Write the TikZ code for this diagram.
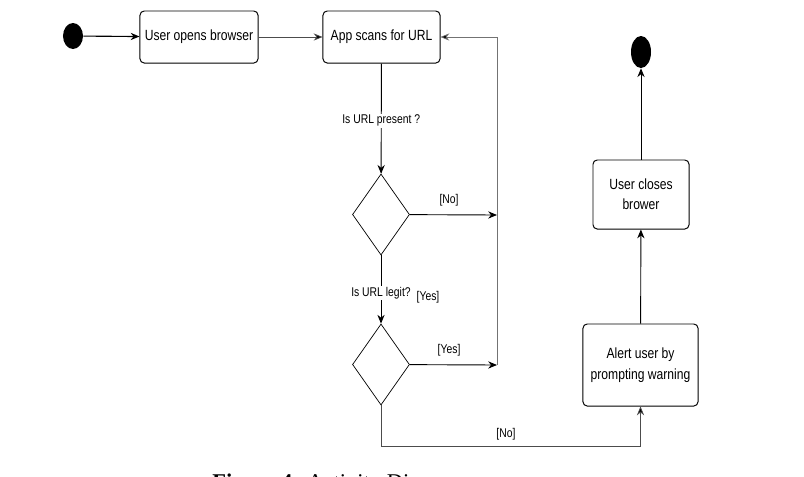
\documentclass[tikz,border=0pt]{standalone}
\usepackage{fontspec}
\setmainfont{Liberation Serif}
\newfontfamily\boxfont{Liberation Sans}[FakeStretch=0.82]
\usetikzlibrary{arrows.meta,shapes.geometric}

\tikzset{
  activity/.style={draw,line width=0.7pt,rounded corners=3pt,align=center,inner sep=1pt,
    font=\boxfont\fontsize{10.5}{14.5}\selectfont,minimum height=1.3cm},
  decision/.style={draw,diamond,line width=0.5pt,inner sep=0pt,minimum width=1.425cm,minimum height=2.025cm},
  terminal/.style={fill=black,ellipse,inner sep=0pt,minimum width=0.5cm,minimum height=0.65cm},
  guard/.style={font=\boxfont\fontsize{9}{10}\selectfont,inner sep=1pt},
  flow/.style={line width=0.65pt,-{Stealth[length=2.2mm,width=1.8mm]}},
  thinflow/.style={line width=0.5pt,draw=black!70,-{Stealth[length=2.2mm,width=1.8mm,fill=black]}},
  backflow/.style={line width=0.5pt,draw=black!55,-{Stealth[length=2.2mm,width=1.8mm,fill=black]}},
}

\begin{document}
\begin{tikzpicture}[x=0.025cm,y=-0.025cm]
\useasboundingbox (0,0) rectangle (804,476);

% states
\node[terminal] (start) at (73,36) {};
\node[activity,minimum width=2.95cm] (open) at (199,37) {User opens browser};
\node[activity,minimum width=2.925cm] (scan) at (381.5,37) {App scans for URL};
\node[decision] (present) at (381,214.5) {};
\node[decision] (legit) at (381,364.5) {};
\node[activity,minimum width=2.875cm,minimum height=2.05cm] (alert) at (640.5,365) {Alert user by\\prompting warning};
\node[activity,minimum width=2.4cm,minimum height=1.725cm] (close) at (641,194.5) {User closes\\brower};
\node[terminal,minimum height=0.8cm] (stop) at (641,52) {};

\coordinate (noend) at (497,215);
\coordinate (yesend) at (497,365);

% flows
\draw[flow,line width=0.8pt] (start) -- (open);
\draw[thinflow] (open) -- (scan);
\draw[flow] (scan) -- (present) node[guard,fill=white,pos=0.52] (qpresent) {Is URL present ?};
\draw[flow] (present) -- (noend) node[guard,above=5pt,pos=0.45] (gno) {[No]};
\draw[flow] (present) -- (legit) node[guard,fill=white,pos=0.55] (qlegit) {Is URL legit?};
\node[guard] (gyes) at (428,297) {[Yes]};
\draw[flow] (legit) -- (yesend) node[guard,above=5pt,pos=0.45] (gyes2) {[Yes]};
\draw[backflow] (yesend) |- (scan.east);
\draw[thinflow] (legit.south) -- ++(0,41) -| (alert.south);
\node[guard] (gno2) at (506,434) {[No]};
\draw[flow] (alert) -- (close);
\draw[flow] (close) -- (stop);

\node[font=\fontsize{16}{19}\selectfont,anchor=base west,inner sep=0pt] (caption) at (212,489) {\textbf{Figure 4:} Activity Diagram};
\end{tikzpicture}
\end{document}
